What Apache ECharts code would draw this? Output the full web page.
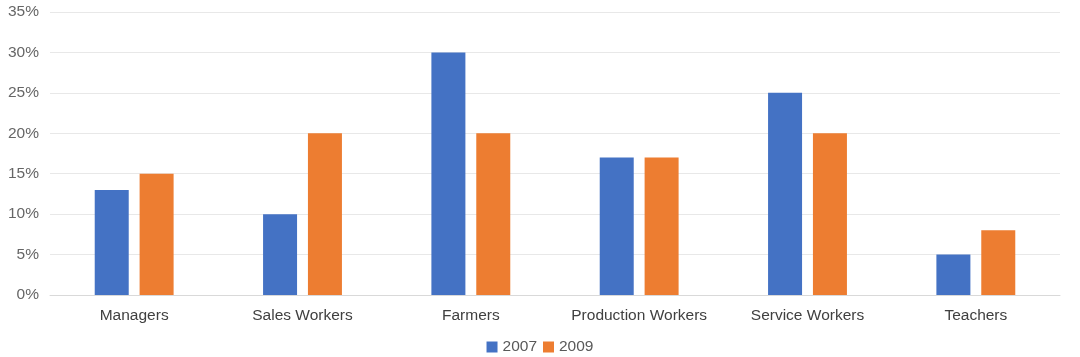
<!DOCTYPE html>
<html><head><meta charset="utf-8">
<script src="https://cdn.jsdelivr.net/npm/echarts@6/dist/echarts.min.js"></script>
<style>html,body{margin:0;padding:0;background:#fff}#c{width:1080px;height:357px}</style>
</head><body><div id="c"></div>
<script>
var categories = ['Managers','Sales Workers','Farmers','Production Workers','Service Workers','Teachers'];
var values2007 = [13,10,30,17,25,5];
var values2009 = [15,20,20,17,20,8];
var seriesNames = ['2007','2009'];
var chart = echarts.init(document.getElementById('c'));
chart.setOption({
  animation:false,
  textStyle:{fontFamily:'Liberation Sans, Arial, sans-serif'},
  grid:{left:50,right:20,top:12,bottom:62},
  legend:{bottom:-3,left:'center',icon:'rect',itemWidth:11,itemHeight:11,itemGap:6,
    textStyle:{fontSize:15.5,color:'#595959'},data:seriesNames},
  xAxis:{type:'category',data:categories,
    axisLine:{lineStyle:{color:'#d9d9d9'}},axisTick:{show:false},
    axisLabel:{interval:0,fontSize:15.5,color:'#404040',margin:13}},
  yAxis:{type:'value',min:0,max:35,interval:5,
    axisLabel:{formatter:'{value}%',fontSize:15.5,color:'#666666',margin:11},
    splitLine:{lineStyle:{color:'#e8e8e8'}},axisLine:{show:false},axisTick:{show:false}},
  series:[
    {name:seriesNames[0],type:'bar',data:values2007,barWidth:34,barGap:'32%',itemStyle:{color:'#4472C4'}},
    {name:seriesNames[1],type:'bar',data:values2009,barWidth:34,itemStyle:{color:'#ED7D31'}}
  ]
});
</script></body></html>
